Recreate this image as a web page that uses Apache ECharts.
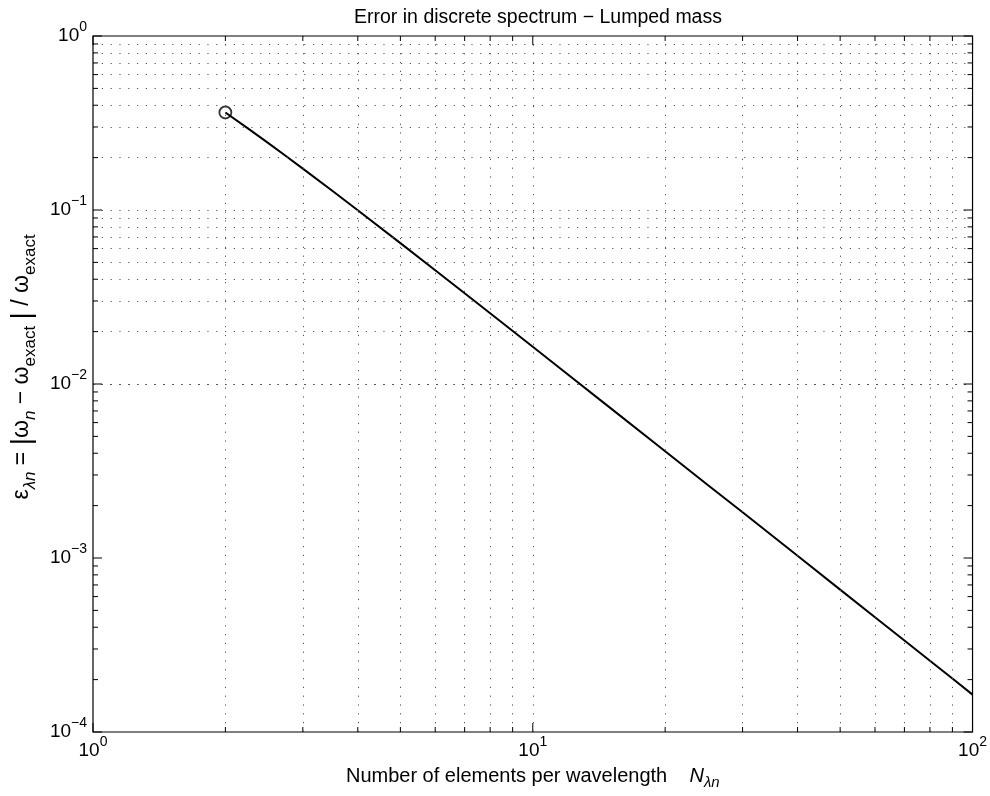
<!DOCTYPE html>
<html><head><meta charset="utf-8">
<script src="https://cdn.jsdelivr.net/npm/echarts@6/dist/echarts.min.js"></script>
<style>html,body{margin:0;padding:0;background:#fff}#c{width:990px;height:796px}</style>
</head><body><div id="c"></div>
<script>
// ---- data ----
const elementsPerWavelength = [2, 2.25, 2.5, 2.75, 3, 3.5, 4, 5, 6, 7, 8, 10, 12, 15, 20, 25, 30, 40, 50, 60, 70, 80, 90, 100];
const relativeError = [0.3634, 0.2947, 0.2431, 0.2038, 0.1730, 0.1290, 0.0997, 0.0645, 0.0451, 0.0332, 0.0255, 0.01637, 0.01138, 0.00729, 0.00411, 0.00263, 0.00183, 0.00103, 0.000658, 0.000457, 0.000336, 0.000257, 0.000203, 0.000164];
const xMajorValues = [1, 10, 100];
const xMinorValues = [2, 3, 4, 5, 6, 7, 8, 9, 20, 30, 40, 50, 60, 70, 80, 90];
const yMajorValues = [1e-4, 1e-3, 1e-2, 1e-1, 1];
const yMinorValues = [2e-4, 3e-4, 4e-4, 5e-4, 6e-4, 7e-4, 8e-4, 9e-4, 2e-3, 3e-3, 4e-3, 5e-3, 6e-3, 7e-3, 8e-3, 9e-3, 2e-2, 3e-2, 4e-2, 5e-2, 6e-2, 7e-2, 8e-2, 9e-2, 2e-1, 3e-1, 4e-1, 5e-1, 6e-1, 7e-1, 8e-1, 9e-1];
const titleText = 'Error in discrete spectrum \u2212 Lumped mass';

const X_MIN = 1, X_MAX = 100, Y_MIN = 1e-4, Y_MAX = 1;
const FONT = '"Liberation Sans", Arial, Helvetica, sans-serif';
const gridStyle = { color: '#555', width: 1, type: [1.2, 7.6] };

function expLabel(v) {
  const e = Math.round(Math.log10(v));
  return '{b|10}{s|' + String(e).replace('-', '\u2212') + '}';
}
const labelRich = {
  b: { fontSize: 19, fontFamily: FONT, color: '#000', lineHeight: 32 },
  s: { fontSize: 14, fontFamily: FONT, color: '#000', lineHeight: 14, verticalAlign: 'top' }
};

function tickSeries(values, dir, len) {
  return {
    type: 'custom', silent: true, animation: false, z: 5,
    data: values.map(v => dir === 'x' ? [v, Y_MIN] : [X_MIN, v]),
    renderItem: function (params, api) {
      const style = { stroke: '#000', lineWidth: 1 };
      if (dir === 'x') {
        const v = api.value(0);
        const a = api.coord([v, Y_MIN]), b = api.coord([v, Y_MAX]);
        return { type: 'group', children: [
          { type: 'line', shape: { x1: a[0], y1: a[1], x2: a[0], y2: a[1] - len }, style: style },
          { type: 'line', shape: { x1: b[0], y1: b[1], x2: b[0], y2: b[1] + len }, style: style }
        ] };
      } else {
        const v = api.value(1);
        const a = api.coord([X_MIN, v]), b = api.coord([X_MAX, v]);
        return { type: 'group', children: [
          { type: 'line', shape: { x1: a[0], y1: a[1], x2: a[0] + len, y2: a[1] }, style: style },
          { type: 'line', shape: { x1: b[0], y1: b[1], x2: b[0] - len, y2: b[1] }, style: style }
        ] };
      }
    }
  };
}

const chart = echarts.init(document.getElementById('c'), null, { renderer: 'canvas' });
const gridLines = xMinorValues.concat([10]).map(v => ({ xAxis: v }))
  .concat(yMinorValues.concat([1e-3, 1e-2, 1e-1]).map(v => ({ yAxis: v })));

chart.setOption({
  animation: false,
  backgroundColor: '#fff',
  textStyle: { fontFamily: FONT },
  title: {
    text: titleText, left: 533, top: 3, textAlign: 'center',
    textStyle: { fontSize: 19.5, fontWeight: 'normal', color: '#000', fontFamily: FONT }
  },
  grid: { left: 93, right: 16, top: 36, bottom: 64, show: true, borderColor: '#000', borderWidth: 1.2, backgroundColor: 'transparent' },
  xAxis: {
    type: 'log', logBase: 10, min: X_MIN, max: X_MAX,
    axisLine: { show: false }, axisTick: { show: false }, splitLine: { show: false },
    axisLabel: { margin: 3, formatter: expLabel, rich: labelRich },
    name: '{t|Number of elements per wavelength    }{i|N}{sub|\u03bbn}',
    nameLocation: 'middle', nameGap: 30,
    nameTextStyle: {
      rich: {
        t: { fontSize: 20, fontFamily: FONT, color: '#000', lineHeight: 28 },
        i: { fontSize: 20, fontFamily: FONT, color: '#000', fontStyle: 'italic', lineHeight: 28 },
        sub: { fontSize: 15, fontFamily: FONT, color: '#000', fontStyle: 'italic', lineHeight: 15, verticalAlign: 'bottom' }
      }
    }
  },
  yAxis: {
    type: 'log', logBase: 10, min: Y_MIN, max: Y_MAX,
    axisLine: { show: false }, axisTick: { show: false }, splitLine: { show: false },
    axisLabel: { margin: 6, formatter: expLabel, rich: labelRich },
    name: '{t|\u03b5}{si|\u03bbn}{t| = }{bar||}{t|\u03c9}{si|n}{t| \u2212 \u03c9}{sub|exact}{t| }{bar||}{t| / \u03c9}{sub|exact}',
    nameLocation: 'middle', nameGap: 50,
    nameTextStyle: {
      padding: [0, 0, 0, 34],
      rich: {
        t: { fontSize: 23, fontFamily: FONT, color: '#000', lineHeight: 34 },
        bar: { fontSize: 28, fontFamily: FONT, color: '#000', lineHeight: 34 },
        si: { fontSize: 17, fontFamily: FONT, color: '#000', fontStyle: 'italic', lineHeight: 17, verticalAlign: 'bottom' },
        sub: { fontSize: 17, fontFamily: FONT, color: '#000', lineHeight: 17, verticalAlign: 'bottom' }
      }
    }
  },
  series: [
    {
      type: 'line', name: 'error', silent: true,
      data: elementsPerWavelength.map((n, i) => [n, relativeError[i]]),
      showSymbol: false, symbol: 'none',
      lineStyle: { color: '#000', width: 2 },
      markLine: {
        silent: true, symbol: ['none', 'none'], label: { show: false },
        lineStyle: gridStyle, emphasis: { disabled: true },
        data: gridLines, animation: false
      },
      z: 3
    },
    {
      type: 'scatter', silent: true,
      data: [[elementsPerWavelength[0], relativeError[0]]],
      symbol: 'circle', symbolSize: 12,
      itemStyle: { color: 'rgba(0,0,0,0)', borderColor: '#000', borderWidth: 1.8 },
      z: 4
    },
    tickSeries(xMajorValues, 'x', 9),
    tickSeries(xMinorValues, 'x', 5),
    tickSeries(yMajorValues, 'y', 9),
    tickSeries(yMinorValues, 'y', 5)
  ]
});
</script></body></html>
